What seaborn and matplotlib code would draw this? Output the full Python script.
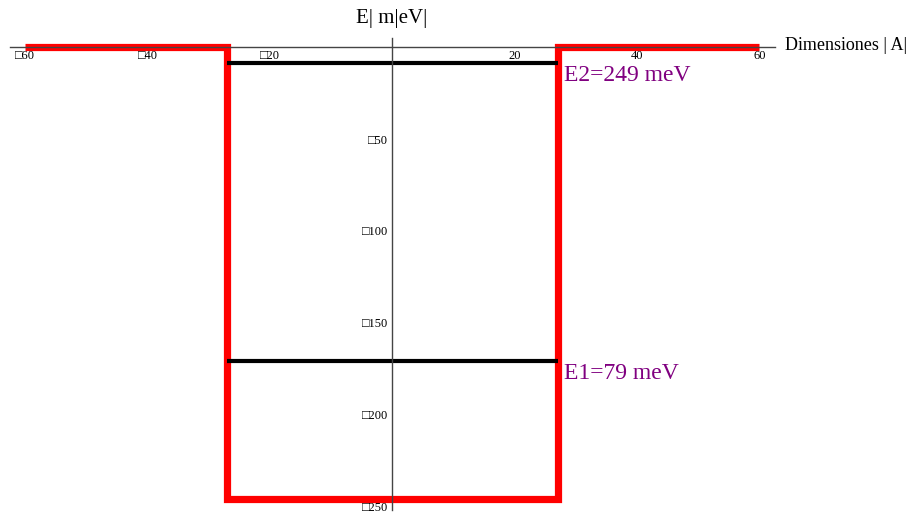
import numpy as np
import pandas as pd
import matplotlib
matplotlib.use('Agg')
import matplotlib.pyplot as plt
import seaborn as sns
from matplotlib.ticker import MultipleLocator, FixedLocator

# potencial del pozo (Å, meV)
well_x = [-60, -27, -27, 27, 27, 60]
well_y = [0, 0, -246, -246, 0, 0]

# niveles de energía
level_y = [-171, -8.5]
level_labels = ['E1=79 meV', 'E2=249 meV']

x_ticks = [-60, -40, -20, 20, 40, 60]
y_ticks = [-250, -200, -150, -100, -50]

sns.set_theme(style='white')
plt.rcParams['font.family'] = ['Liberation Serif', 'DejaVu Serif']
plt.rcParams['text.color'] = 'black'
plt.rcParams['xtick.color'] = 'black'
plt.rcParams['ytick.color'] = 'black'

fig = plt.figure(figsize=(9.19, 5.14), dpi=100)
ax = fig.add_axes([0.011, 0.008, 0.832, 0.918])

df = pd.DataFrame({'x': well_x, 'y': well_y})
sns.lineplot(data=df, x='x', y='y', sort=False, estimator=None,
             color='#ff0000', lw=5.2, ax=ax,
             solid_capstyle='butt', solid_joinstyle='miter')

for yv, lab in zip(level_y, level_labels):
    lv = pd.DataFrame({'x': [well_x[1], well_x[3]], 'y': [yv, yv]})
    sns.lineplot(data=lv, x='x', y='y', color='black', lw=3, ax=ax,
                 estimator=None, solid_capstyle='butt', zorder=3)
    ax.text(well_x[3] + 1, yv - 1, lab, color='#800080', fontsize=17,
            va='top', ha='left')

ax.set_xlim(-62.5, 62.5)
ax.set_ylim(-252, 5)
ax.set_axisbelow(False)

for s in ['top', 'right']:
    ax.spines[s].set_visible(False)
ax.spines['left'].set_position(('data', 0))
ax.spines['bottom'].set_position(('data', 0))
for s in ['left', 'bottom']:
    ax.spines[s].set_color('#444444')
    ax.spines[s].set_linewidth(1.0)
    ax.spines[s].set_zorder(4)

ax.xaxis.set_major_locator(FixedLocator(x_ticks))
ax.xaxis.set_minor_locator(MultipleLocator(5))
ax.yaxis.set_major_locator(FixedLocator(y_ticks))
ax.yaxis.set_minor_locator(MultipleLocator(10))
ax.set_xticklabels(['\u25a1' + str(abs(v)) if v < 0 else str(v) for v in x_ticks])
ax.set_yticklabels(['\u25a1' + str(abs(v)) for v in y_ticks])

ax.tick_params(axis='both', which='both', direction='in', color='#222222',
               labelsize=9, pad=3)
ax.tick_params(axis='both', which='major', length=5, width=0.9)
ax.tick_params(axis='both', which='minor', length=3, width=0.7)
ax.tick_params(axis='x', which='major', pad=2)

ax.set_xlabel('')
ax.set_ylabel('')
ax.grid(False)

fig.text(392 / 919, 1 - 18 / 514, 'E| m|eV|', fontsize=15, ha='center', va='center')
fig.text(785 / 919, 1 - 45 / 514, 'Dimensiones | A|', fontsize=13, ha='left', va='center')

fig.savefig('out.png', dpi=100)
